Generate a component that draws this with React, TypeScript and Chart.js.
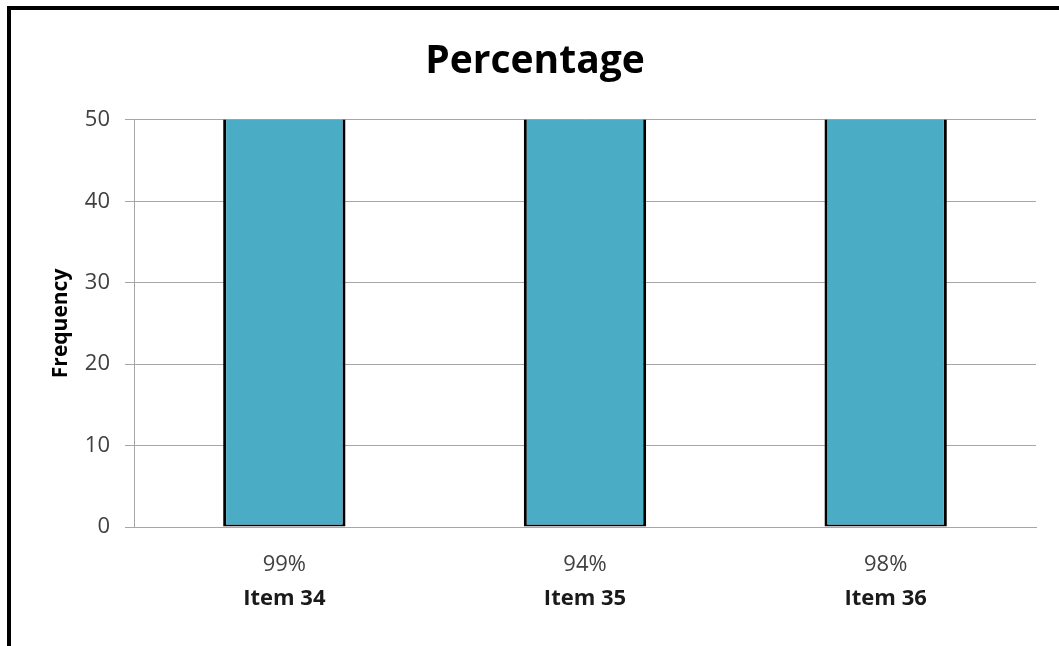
import React, { useEffect, useRef } from "react";
import { Chart, registerables } from "chart.js";

Chart.register(...registerables);

const itemLabels = ["Item 34", "Item 35", "Item 36"];
const percentLabels = ["99%", "94%", "98%"];
const frequencyValues = [99, 94, 98];
const yTicks = [0, 10, 20, 30, 40, 50];

const FONT = "'Open Sans', 'Noto Sans', sans-serif";
const GRID = "#a6a6a6";

export default function App() {
  const ref = useRef<HTMLCanvasElement | null>(null);

  useEffect(() => {
    if (!ref.current) return;
    const chart = new Chart(ref.current, {
      type: "bar",
      data: {
        labels: percentLabels,
        datasets: [
          {
            label: "Frequency",
            data: frequencyValues,
            backgroundColor: "#4BACC6",
            borderColor: "#000000",
            borderWidth: { top: 0, left: 3, right: 3, bottom: 2 },
            borderSkipped: false,
            barPercentage: 0.407,
            categoryPercentage: 1,
            clip: 0,
          },
        ],
      },
      options: {
        responsive: false,
        animation: false,
        layout: { padding: { left: 0, right: 0, top: 0, bottom: 33 } },
        plugins: {
          legend: { display: false },
          tooltip: { enabled: false },
          title: {
            display: true,
            text: "Percentage",
            color: "#000000",
            font: { family: FONT, size: 39, weight: "bold", lineHeight: 1.2 },
            padding: { top: 28, bottom: 35 },
          },
        },
        scales: {
          x: {
            type: "category",
            position: "bottom",
            weight: 0,
            offset: true,
            grid: { display: false, drawTicks: false },
            border: { display: true, color: GRID, width: 1 },
            ticks: {
              color: "#404040",
              font: { family: FONT, size: 22 },
              padding: 25,
              maxRotation: 0,
            },
            afterFit: (s: any) => {
              s.height = 51;
            },
          },
          x2: {
            type: "category",
            position: "bottom",
            weight: 1,
            offset: true,
            labels: itemLabels,
            grid: { display: false, drawTicks: false },
            border: { display: false },
            ticks: {
              color: "#1a1a1a",
              font: { family: FONT, size: 22, weight: "bold" },
              padding: 8,
              maxRotation: 0,
            },
            afterFit: (s: any) => {
              s.height = 35;
            },
          },
          y: {
            min: 0,
            max: 50,
            afterBuildTicks: (s: any) => {
              s.ticks = yTicks.map((v) => ({ value: v }));
            },
            grid: { color: GRID, tickLength: 9, drawTicks: true },
            border: { display: true, color: GRID, width: 1 },
            ticks: {
              color: "#404040",
              font: { family: FONT, size: 22 },
              padding: 15,
            },
            title: {
              display: true,
              text: "Frequency",
              color: "#000000",
              font: { family: FONT, size: 21, weight: "bold", lineHeight: 1.2 },
              padding: { top: 37, bottom: 0 },
            },
            afterFit: (s: any) => {
              s.width = 123;
            },
          },
          yRight: {
            position: "right",
            min: 0,
            max: 50,
            grid: { display: false, drawTicks: false },
            border: { display: false },
            ticks: { display: false },
            afterFit: (s: any) => {
              s.width = 23;
            },
          },
        },
      },
    });
    return () => chart.destroy();
  }, []);

  return (
    <div
      style={{
        position: "fixed",
        left: 7,
        top: 6,
        width: 1052,
        height: 640,
        borderTop: "4px solid #000",
        borderLeft: "4px solid #000",
        background: "#fff",
      }}
    >
      <canvas
        ref={ref}
        width={1048}
        height={636}
        style={{ display: "block", width: 1048, height: 636 }}
      />
    </div>
  );
}
